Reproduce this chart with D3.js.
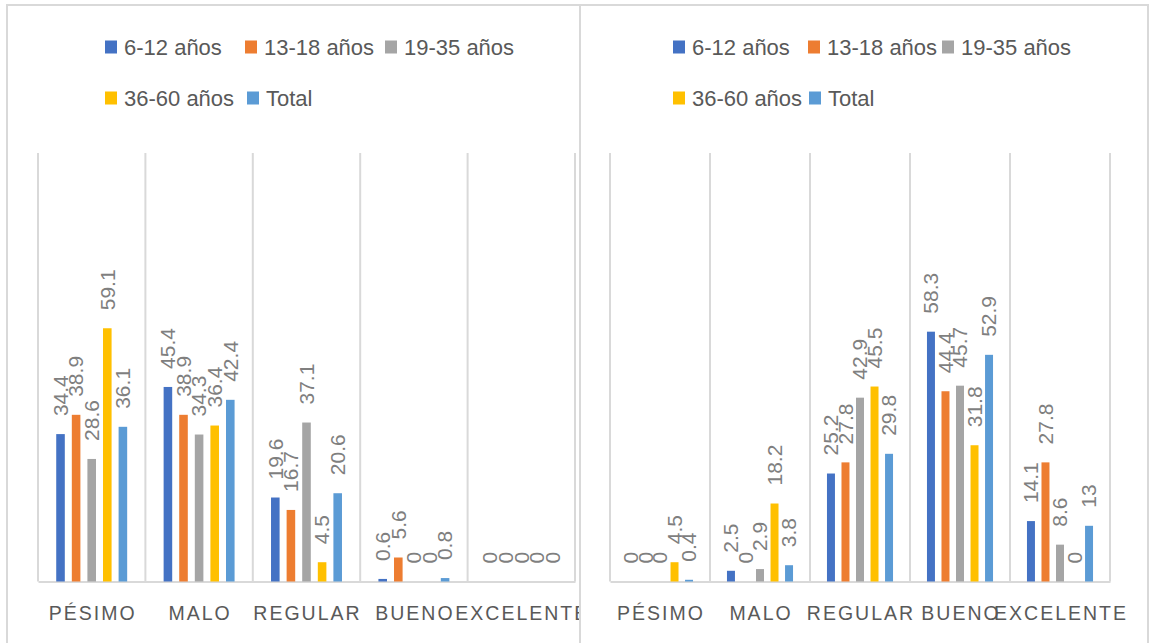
<!DOCTYPE html>
<html>
<head>
<meta charset="utf-8">
<script src="https://cdn.jsdelivr.net/npm/d3@7"></script>
<style>
  body { margin: 0; background: #ffffff; }
  svg { display: block; }
  text { font-family: "Liberation Sans", Arial, sans-serif; }
</style>
</head>
<body>
<svg id="chart" width="1150" height="643"></svg>
<script>
// Rating categories along the x axis
const categories = ["PÉSIMO", "MALO", "REGULAR", "BUENO", "EXCELENTE"];
// Age groups (one bar per group in each category)
const seriesNames = ["6-12 años", "13-18 años", "19-35 años", "36-60 años", "Total"];
const seriesColors = ["#4472C4", "#ED7D31", "#A5A5A5", "#FFC000", "#5B9BD5"];

// Left chart: percentage per age group, in category order
const left6to12  = [34.4, 45.4, 19.6, 0.6, 0];
const left13to18 = [38.9, 38.9, 16.7, 5.6, 0];
const left19to35 = [28.6, 34.3, 37.1, 0, 0];
const left36to60 = [59.1, 36.4, 4.5, 0, 0];
const leftTotal  = [36.1, 42.4, 20.6, 0.8, 0];

// Right chart: percentage per age group, in category order
const right6to12  = [0, 2.5, 25.2, 58.3, 14.1];
const right13to18 = [0, 0, 27.8, 44.4, 27.8];
const right19to35 = [0, 2.9, 42.9, 45.7, 8.6];
const right36to60 = [4.5, 18.2, 45.5, 31.8, 0];
const rightTotal  = [0.4, 3.8, 29.8, 52.9, 13];

const yMax = 100;

const svg = d3.select("#chart");
const gridColor = "#d9d9d9";
const labelColor = "#595959";
const valueColor = "#7f7f7f";

const panels = [
  {
    id: "left", left: 7, right: 580,
    plotLeft: 38, plotRight: 575,
    legendPos: [[105, 47], [245, 47], [385, 47], [105, 98], [247, 98]],
    series: [left6to12, left13to18, left19to35, left36to60, leftTotal]
  },
  {
    id: "right", left: 580, right: 1148,
    plotLeft: 610, plotRight: 1110,
    legendPos: [[673, 47], [808, 47], [942, 47], [673, 98], [809, 98]],
    series: [right6to12, right13to18, right19to35, right36to60, rightTotal]
  }
];

const plotTop = 153, plotBottom = 581.5;
const y = d3.scaleLinear().domain([0, yMax]).range([plotBottom, plotTop]);

// Outer frame and divider between the two charts
svg.append("path")
  .attr("d", "M7,643V5H1148V643 M580,5V643")
  .attr("fill", "none").attr("stroke", gridColor).attr("stroke-width", 2);

panels.forEach(p => {
  const clipId = "clip-" + p.id;
  svg.append("clipPath").attr("id", clipId)
    .append("rect").attr("x", p.left + 1).attr("y", 6)
    .attr("width", p.right - p.left - 2).attr("height", 637);

  const g = svg.append("g").attr("clip-path", `url(#${clipId})`);

  const x0 = d3.scaleBand().domain(categories)
    .range([p.plotLeft, p.plotRight])
    .paddingInner(0.274).paddingOuter(0.137);
  const x1 = d3.scaleBand().domain(seriesNames)
    .range([0, x0.bandwidth()])
    .paddingInner(0.45).paddingOuter(0.225);
  const step = x0.step();
  const catLeft = c => x0(c) - x0.paddingOuter() * step;

  // Vertical separators between categories
  const bounds = categories.map(catLeft).concat([catLeft(categories[4]) + step]);
  g.selectAll("line.sep").data(bounds).join("line")
    .attr("class", "sep")
    .attr("x1", d => d).attr("x2", d => d)
    .attr("y1", plotTop).attr("y2", plotBottom)
    .attr("stroke", gridColor).attr("stroke-width", 2);

  // Category axis
  const axis = g.append("g")
    .attr("transform", `translate(0,${plotBottom})`)
    .call(d3.axisBottom(x0).tickSize(0).tickSizeOuter(0).tickPadding(25));
  axis.select(".domain").attr("stroke", gridColor).attr("stroke-width", 2);
  axis.selectAll(".tick text")
    .attr("fill", labelColor)
    .attr("dx", "1px")
    .style("font-size", "19.5px")
    .style("font-family", "\"Liberation Sans\", Arial, sans-serif")
    .style("letter-spacing", "2px");

  // Bars and value labels
  const rows = [];
  p.series.forEach((vals, si) => {
    vals.forEach((v, ci) => rows.push({ cat: categories[ci], s: seriesNames[si], si, v }));
  });

  g.selectAll("rect.bar").data(rows).join("rect")
    .attr("class", "bar")
    .attr("x", d => x0(d.cat) + x1(d.s))
    .attr("width", x1.bandwidth())
    .attr("y", d => y(d.v))
    .attr("height", d => y(0) - y(d.v))
    .attr("fill", d => seriesColors[d.si]);

  g.selectAll("text.val").data(rows).join("text")
    .attr("class", "val")
    .attr("transform", d => `translate(${x0(d.cat) + x1(d.s) + x1.bandwidth() / 2},${y(d.v) - 18}) rotate(-90)`)
    .attr("dy", "0.35em")
    .attr("text-anchor", "start")
    .attr("fill", valueColor)
    .style("font-size", "21px")
    .text(d => d3.format("~g")(d.v));

  // Legend: three entries on the first row, two on the second
  const leg = g.selectAll("g.leg").data(seriesNames).join("g")
    .attr("class", "leg")
    .attr("transform", (d, i) => `translate(${p.legendPos[i][0]},${p.legendPos[i][1]})`);
  leg.append("rect")
    .attr("x", 0).attr("y", -6.5).attr("width", 12).attr("height", 13)
    .attr("fill", (d, i) => seriesColors[i]);
  leg.append("text")
    .attr("x", 19).attr("dy", "0.35em")
    .attr("fill", labelColor)
    .style("font-size", "22px")
    .text(d => d);
});
</script>
</body>
</html>
